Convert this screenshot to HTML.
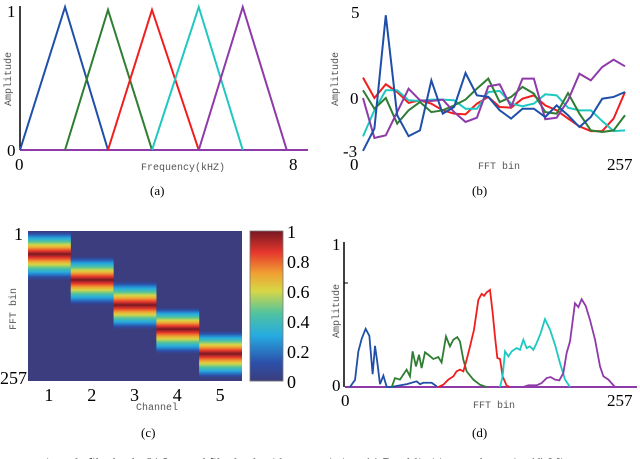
<!DOCTYPE html>
<html><head><meta charset="utf-8">
<style>
html,body{margin:0;padding:0;background:#fff;width:640px;height:459px;overflow:hidden}
svg{display:block}
.ser{font-family:"Liberation Serif",serif;fill:#000}
.mono{font-family:"Liberation Mono",monospace;fill:#555;font-size:10px}
</style></head><body>
<svg id="fig" width="640" height="459" viewBox="0 0 640 459" xmlns="http://www.w3.org/2000/svg">
<g id="pa">
  <line x1="20" y1="6" x2="20" y2="150" stroke="#000" stroke-width="1.5"/>
  <text class="ser" x="7" y="17" font-size="17">1</text>
  <text class="ser" x="7" y="156" font-size="17">0</text>
  <text class="ser" x="15" y="170" font-size="17">0</text>
  <text class="ser" x="289" y="170" font-size="17">8</text>
  <text class="mono" x="141" y="170">Frequency(kHZ)</text>
  <text class="mono" transform="translate(11,106) rotate(-90)">Amplitude</text>
  <text class="ser" x="150" y="195" font-size="13">(a)</text>
</g>
<g id="pb">
  <text class="ser" x="351" y="18" font-size="17">5</text>
  <text class="ser" x="350" y="104" font-size="17">0</text>
  <text class="ser" x="343" y="157" font-size="17">-3</text>
  <text class="ser" x="350" y="170" font-size="17">0</text>
  <text class="ser" x="607" y="170" font-size="17">257</text>
  <text class="mono" x="478" y="169">FFT bin</text>
  <text class="mono" transform="translate(338,106) rotate(-90)">Amplitude</text>
  <text class="ser" x="472" y="195" font-size="13">(b)</text>
</g>
<g id="pc">
  <rect x="28" y="231" width="214" height="150" fill="#3b3d7e"/>
  <g id="cells"></g>
  <g id="cbar"></g>
  <rect x="250" y="231" width="33" height="150" fill="none" stroke="#777" stroke-width="0.8"/>
  <text class="ser" x="14" y="240" font-size="18">1</text>
  <text class="ser" x="0" y="384" font-size="18">257</text>
  <text class="mono" transform="translate(16,330) rotate(-90)">FFT bin</text>
  <g id="cxt"></g>
  <text class="mono" x="136" y="410">Channel</text>
  <g id="cbt"></g>
  <text class="ser" x="141" y="437" font-size="13">(c)</text>
</g>
<g id="pd">
  <line x1="344" y1="242" x2="344" y2="387" stroke="#000" stroke-width="1.5"/>
  <line x1="344" y1="283" x2="348" y2="283" stroke="#000" stroke-width="1"/>
  <text class="ser" x="332" y="250" font-size="17">1</text>
  <text class="ser" x="332" y="391" font-size="17">0</text>
  <text class="ser" x="341" y="406" font-size="17">0</text>
  <text class="ser" x="607" y="406" font-size="17">257</text>
  <text class="mono" x="473" y="408">FFT bin</text>
  <text class="mono" transform="translate(339,338) rotate(-90)">Amplitude</text>
  <text class="ser" x="472" y="437" font-size="13">(d)</text>
</g>
<text class="ser" x="22" y="467" font-size="13">metric scale filterbank. (b) Learned filterbank without restriction. (c) Band-limiting mask matrix. (d) Mi</text>
</svg>
<script>
// ---- Panel (a) data: triangle filters in kHz ----
const aColors = ["#1f4fa8","#2e7d32","#f01e1e","#1ec8c0","#8e3aa8"];
const aLeft = [0, 1.31, 2.56, 3.84, 5.2];
const aPeak = [1.31, 2.56, 3.84, 5.2, 6.48];
const aRight = [2.56, 3.84, 5.2, 6.48, 7.76];
const aPeakVal = [1.0, 0.98, 0.98, 1.0, 1.0];
// ---- Panel (b) data: learned filters, 24 points each ----
const bValues = [
 [-3.0,-1.74,4.7,-0.98,-2.17,-1.84,1.0,-0.89,-0.51,1.42,0.15,0.06,-0.70,-1.17,-0.61,-0.61,-1.08,-0.42,-0.98,-1.65,-1.08,-0.04,0.06,0.34],
 [0.44,-0.61,0,-1.46,-0.70,-0.23,-0.80,-0.70,-0.42,-0.09,0.53,1.10,-0.23,0.06,0.63,0.25,-0.80,-0.89,0.28,-0.89,-1.84,-1.93,-1.84,-0.98],
 [1.16,0,0.78,0.34,-0.28,-0.13,-0.32,-0.70,-0.89,-0.93,-0.32,0.06,-0.51,-0.55,-0.04,0.15,-0.42,-0.70,-1.17,-1.61,-1.88,-1.88,-1.17,0.34],
 [-2.18,-0.70,0.44,0.44,-0.13,-0.17,-0.09,-0.09,-0.13,-0.61,-0.61,0.34,0.40,-0.32,-0.47,-0.32,0.21,0.15,-0.55,-0.70,-0.70,-1.31,-1.88,-1.84],
 [0,-2.27,-2.12,-0.80,0.53,-0.13,-0.17,-0.09,-0.80,-1.36,-1.12,0.66,0.78,-0.51,1.10,1.10,-1.21,-1.12,-0.13,1.38,1.00,1.76,2.18,1.80]
];
const bOrder = [2,3,1,4,0];
// ---- Panel (c) data: band limits in FFT bins ----
const cChannels = ["1","2","3","4","5"];
const cBandStart = [1, 44, 86, 131, 171];
const cBandPeak = [40, 84, 127, 168, 210];
const cBandEnd = [84, 127, 168, 210, 252];
const cbTicks = ["0","0.2","0.4","0.6","0.8","1"];
// ---- Panel (d) data ----
const dBins = [
 [4.4,8.9,11.8,14.8,18.3,21.6,24.5,26.6,28.7,31,34,37,39.9,44.3,54.9,63.5,66.5,69.4,72.4,76.8,81.2],
 [41.4,44.3,48.7,54.6,57.6,59.9,62.9,65.6,67.9,70.9,73.8,78.3,82.7,85.6,89.5,93,96,99.5,101.9,104.9,107.8,113.7,119.6,125.5],
 [82.7,87.1,91.6,96,98.9,101.9,104.9,107.8,110.8,114.3,118.2,121.1,123.2,125.5,128.5,130.9,132.9,135,137.4,139.7,143.3,146.2],
 [137.4,139.7,141.8,144.8,147.7,152.1,155.1,158,161,163.9,166.9,169.8,173.4,177.2,181.7,186.1,190.5,195,199.4],
 [158,162.5,169.8,174.3,178.7,182.3,186.1,189.9,193.5,196.4,199.4,203.8,206.8,209.7,213.3,217.1,221.6,226,229,233.4,239.3]
];
const dAmps = [
 [0,.05,.25,.34,.41,.36,.09,.29,.17,.02,.08,0,0,.005,.02,.04,.02,.03,.03,.03,.005],
 [0,.063,.052,.122,.075,.251,.145,.227,.133,.244,.227,.197,.211,.173,.356,.286,.333,.351,.321,.192,.110,.052,.016,0],
 [0,.016,.052,.075,.110,.122,.110,.192,.286,.403,.614,.656,.642,.666,.684,.520,.356,.204,.197,.075,.009,0],
 [0,.075,.251,.215,.251,.274,.262,.333,.274,.286,.262,.309,.379,.478,.403,.298,.169,.052,0],
 [0,.012,.012,.028,.063,.070,.052,.047,.098,.239,.321,.590,.562,.618,.571,.473,.333,.145,.075,.052,0]
];
const NS="http://www.w3.org/2000/svg";
function mk(tag,attrs,parent){const e=document.createElementNS(NS,tag);for(const k in attrs)e.setAttribute(k,attrs[k]);parent.appendChild(e);return e;}
// Panel a
const ax=k=>20+k*(295-20)/8, ay=v=>150-v*(150-7);
const pa=document.getElementById('pa');
const base=mk('line',{x1:20,y1:150,x2:308,y2:150,stroke:"#8e3aa8","stroke-width":2},pa);


for(let i=0;i<5;i++){
  const p=mk('polyline',{points:`${ax(aLeft[i])},${ay(0)} ${ax(aPeak[i])},${ay(aPeakVal[i])} ${ax(aRight[i])},${ay(0)}`,fill:"none",stroke:aColors[i],"stroke-width":2},pa);
  
  
}
// Panel b
const bx=i=>363+i*(625-363)/23, by=v=>98-v*17.6;
const pb=document.getElementById('pb');
bOrder.forEach(s=>{
  const pts=bValues[s].map((v,i)=>bx(i)+","+by(v)).join(" ");
  const p=mk('polyline',{points:pts,fill:"none",stroke:aColors[s],"stroke-width":2},pb);
  
  
});
// Panel c
const stops=[[0,[59,61,126]],[0.12,[44,80,170]],[0.3,[38,170,225]],[0.45,[80,195,160]],[0.6,[215,215,70]],[0.72,[240,160,50]],[0.86,[230,55,45]],[1,[120,25,35]]];
function cmap(v){for(let i=1;i<stops.length;i++){if(v<=stops[i][0]){const a=stops[i-1],b=stops[i],t=(v-a[0])/(b[0]-a[0]);return `rgb(${a[1].map((c,j)=>Math.round(c+(b[1][j]-c)*t)).join(",")})`;}}return "rgb(120,25,35)";}
const cx0=28,cw=214/5,cy=b=>231+(b-1)*150/256;
const cells=document.getElementById('cells');
for(let k=0;k<5;k++){
  for(let b=cBandStart[k];b<cBandEnd[k];b++){
    const v=b<cBandPeak[k]?(b-cBandStart[k])/(cBandPeak[k]-cBandStart[k]):(cBandEnd[k]-b)/(cBandEnd[k]-cBandPeak[k]);
    const r=mk('rect',{x:cx0+k*cw,y:cy(b),width:cw,height:150/256+0.4,fill:cmap(v)},cells);
    
    
  }
  const t=mk('text',{x:cx0+(k+0.5)*cw-5,y:401,"font-size":18,class:"ser"},document.getElementById('cxt'));
  t.textContent=cChannels[k];
  
  
}
const cbar=document.getElementById('cbar');
for(let i=0;i<150;i++){
  const r=mk('rect',{x:250,y:231+i,width:33,height:1.2,fill:cmap(1-i/149)},cbar);
  
  
}
cbTicks.forEach((s,i)=>{
  const t=mk('text',{x:287,y:381-i*30+7,"font-size":18,class:"ser"},document.getElementById('cbt'));
  t.textContent=s;
  
  
});
// Panel d
const dx=b=>345+b*(635-345)/257, dy=v=>387-v*(387-245);
const pd=document.getElementById('pd');
const bl=mk('line',{x1:345,y1:387,x2:637,y2:387,stroke:"#8e3aa8","stroke-width":2},pd);


for(let s=0;s<5;s++){
  const pts=dBins[s].map((b,i)=>dx(b)+","+dy(dAmps[s][i])).join(" ");
  const p=mk('polyline',{points:pts,fill:"none",stroke:aColors[s],"stroke-width":1.8},pd);
  
  
}
</script>
</body></html>
